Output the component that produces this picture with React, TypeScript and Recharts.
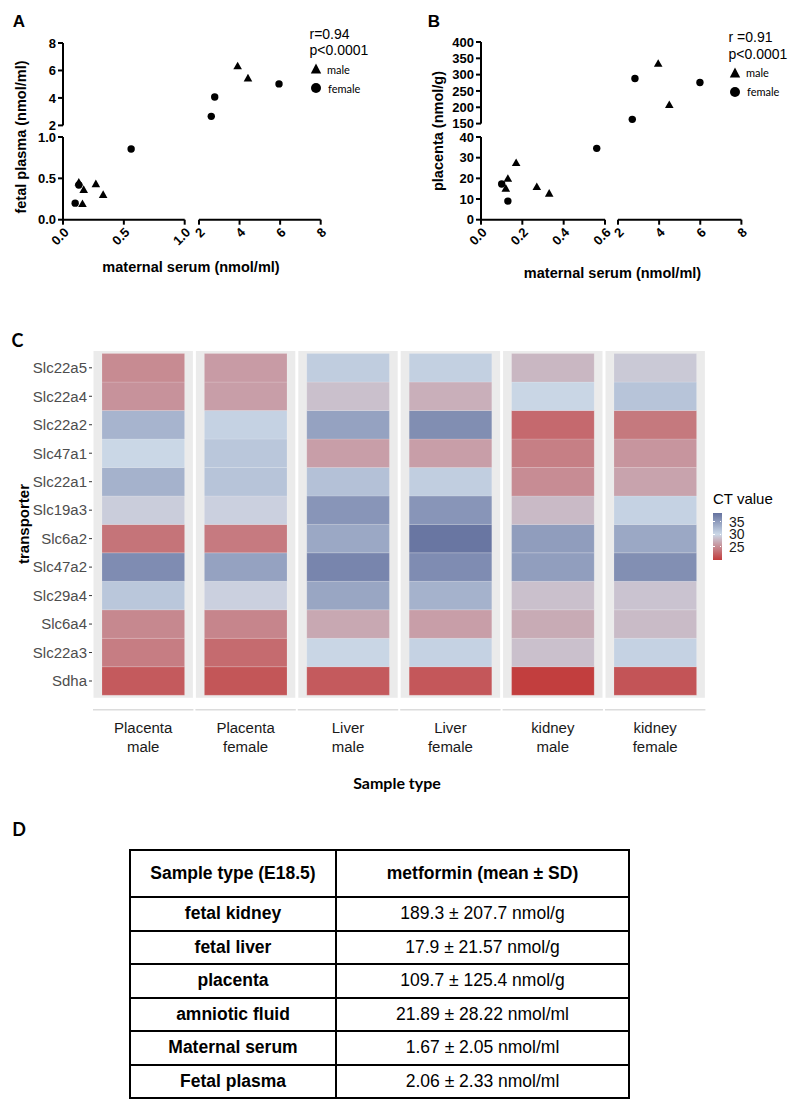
import React from 'react';
import { ScatterChart, Scatter, XAxis, YAxis, BarChart, Bar, Cell, ReferenceArea } from 'recharts';

const FONT = '"Liberation Sans", Arial, sans-serif';
const ALT = 'Lato, "Open Sans", sans-serif';

// A: maternal serum vs fetal plasma (nmol/ml)
const plasmaMaleSerum = [0.13, 0.17, 0.16, 0.27, 0.33, 3.92, 4.43];
const plasmaMaleValue = [0.45, 0.36, 0.19, 0.43, 0.3, 6.3, 5.42];
const plasmaFemaleSerum = [0.1, 0.13, 0.56, 2.62, 2.79, 5.96];
const plasmaFemaleValue = [0.2, 0.42, 0.855, 2.66, 4.07, 5.02];

// B: maternal serum vs placenta (nmol/g)
const placentaMaleSerum = [0.13, 0.12, 0.17, 0.27, 0.33, 3.94, 4.48];
const placentaMaleValue = [19.8, 15.0, 27.4, 15.8, 12.6, 333, 207];
const placentaFemaleSerum = [0.1, 0.13, 0.56, 2.68, 2.81, 5.97];
const placentaFemaleValue = [17.3, 9.0, 34.5, 163, 288, 276];

const plasmaLowTicks = [0, 0.5, 1];
const plasmaHighTicks = [2, 4, 6, 8];
const placentaLowTicks = [0, 10, 20, 30, 40];
const placentaHighTicks = [150, 200, 250, 300, 350, 400];
const serumLowTicksA = [0, 0.5, 1];
const serumLowTicksB = [0, 0.2, 0.4, 0.6];
const serumHighTicks = [2, 4, 6, 8];

// C: CT values, rows top to bottom
const transporters = ['Slc22a5', 'Slc22a4', 'Slc22a2', 'Slc47a1', 'Slc22a1', 'Slc19a3', 'Slc6a2', 'Slc47a2', 'Slc29a4', 'Slc6a4', 'Slc22a3', 'Sdha'];
const sampleTypes = ['Placenta male', 'Placenta female', 'Liver male', 'Liver female', 'kidney male', 'kidney female'];
const ctPlacentaMale = [24.9, 25.4, 33.0, 30.1, 33.2, 29.3, 23.4, 36.3, 31.4, 24.7, 24.0, 21.7];
const ctPlacentaFemale = [26.0, 26.2, 30.5, 31.4, 31.7, 29.5, 23.8, 34.5, 29.5, 24.5, 22.8, 21.4];
const ctLiverMale = [30.9, 28.4, 34.5, 26.2, 31.9, 35.6, 34.0, 36.9, 34.2, 26.8, 30.2, 21.7];
const ctLiverFemale = [30.7, 27.3, 36.2, 26.2, 30.8, 35.6, 38.2, 36.3, 33.2, 26.2, 30.5, 21.5];
const ctKidneyMale = [27.8, 30.2, 22.7, 24.1, 25.0, 28.0, 34.9, 34.8, 28.4, 27.0, 28.4, 19.8];
const ctKidneyFemale = [29.0, 31.7, 23.7, 25.6, 26.5, 30.5, 34.0, 36.1, 28.6, 28.1, 30.5, 21.3];
const ctBySample = [ctPlacentaMale, ctPlacentaFemale, ctLiverMale, ctLiverFemale, ctKidneyMale, ctKidneyFemale];
const ctLegendTicks = [35, 30, 25];

// D: table
const tableSamples = ['fetal kidney', 'fetal liver', 'placenta', 'amniotic fluid', 'Maternal serum', 'Fetal plasma'];
const tableValues = ['189.3 ± 207.7 nmol/g', '17.9 ± 21.57 nmol/g', '109.7 ± 125.4 nmol/g', '21.89 ± 28.22 nmol/ml', '1.67 ± 2.05 nmol/ml', '2.06 ± 2.33 nmol/ml'];

const CT_MIN = 19.7;
const CT_MID = 30;
const CT_MAX = 38.5;
const LOW = [194, 60, 60];
const MID = [203, 216, 231];
const HIGH = [101, 114, 159];

function mix(a: number[], b: number[], t: number) {
  const c = a.map((v, i) => Math.round(v + (b[i] - v) * Math.max(0, Math.min(1, t))));
  return `rgb(${c[0]},${c[1]},${c[2]})`;
}
function ctColor(v: number) {
  return v <= CT_MID ? mix(LOW, MID, (v - CT_MIN) / (CT_MID - CT_MIN)) : mix(MID, HIGH, (v - CT_MID) / (CT_MAX - CT_MID));
}

type Pt = { x: number; y: number };
const zip = (xs: number[], ys: number[]): Pt[] => xs.map((x, i) => ({ x, y: ys[i] }));

const PAD = 30;
const YW = 50;
const XH = 40;

function place(x0: number, y0: number, x1: number, y1: number, yw: number, xh: number) {
  return {
    style: { position: 'absolute' as const, left: x0 - yw - PAD, top: y0 - PAD },
    width: x1 - x0 + yw + 2 * PAD,
    height: y1 - y0 + xh + 2 * PAD,
    margin: { top: PAD, right: PAD, bottom: PAD, left: PAD },
  };
}

const Dot = (p: any) => <circle cx={p.cx} cy={p.cy} r={3.7} fill="#000" />;
const Tri = (p: any) => (
  <polygon points={`${p.cx},${p.cy - 4.6} ${p.cx - 4.3},${p.cy + 3} ${p.cx + 4.3},${p.cy + 3}`} fill="#000" />
);

const axisLine = { stroke: '#000', strokeWidth: 2 };
const tickStyle = { fill: '#000', fontSize: 13, fontWeight: 700, fontFamily: FONT };

type Geo = { axisX: number; upTop: number; upBottom: number; lowTop: number; bottom: number; leftEnd: number; rightStart: number; rightEnd: number };

function BrokenScatter(props: {
  g: Geo; lowX: number[]; highX: number[]; lowY: number[]; highY: number[];
  fmtX: (v: number) => string; fmtY: (v: number) => string; male: Pt[]; female: Pt[];
}) {
  const { g, lowX, highX, lowY, highY, fmtX, fmtY, male, female } = props;
  const first = (a: number[]) => a[0];
  const last = (a: number[]) => a[a.length - 1];
  const isLow = (p: Pt) => p.x < first(highX);
  const stretch = first(highX) - ((g.rightStart - g.axisX) * (last(highX) - first(highX))) / (g.rightEnd - g.rightStart);
  const up = place(g.axisX, g.upTop, g.rightEnd, g.upBottom, YW, 0);
  const ll = place(g.axisX, g.lowTop, g.leftEnd, g.bottom, YW, XH);
  const lr = place(g.rightStart, g.lowTop, g.rightEnd, g.bottom, 0, XH);
  return (
    <>
      <div style={up.style}>
        <ScatterChart width={up.width} height={up.height} margin={up.margin}>
          <XAxis type="number" dataKey="x" hide domain={[stretch, last(highX)]} allowDataOverflow />
          <YAxis type="number" dataKey="y" width={YW} domain={[first(highY), last(highY)]} ticks={highY} allowDataOverflow
            axisLine={axisLine} tickLine={axisLine} tickSize={5} tick={tickStyle} interval={0} />
          <Scatter data={male.filter((p) => !isLow(p))} shape={Tri} isAnimationActive={false} />
          <Scatter data={female.filter((p) => !isLow(p))} shape={Dot} isAnimationActive={false} />
        </ScatterChart>
      </div>
      <div style={ll.style}>
        <ScatterChart width={ll.width} height={ll.height} margin={ll.margin}>
          <XAxis type="number" dataKey="x" height={XH} domain={[first(lowX), last(lowX)]} ticks={lowX} allowDataOverflow
            axisLine={axisLine} tickLine={axisLine} tickSize={5} angle={-45} tickFormatter={fmtX}
            tick={{ ...tickStyle, textAnchor: 'end' }} interval={0} />
          <YAxis type="number" dataKey="y" width={YW} domain={[first(lowY), last(lowY)]} ticks={lowY} allowDataOverflow
            axisLine={axisLine} tickLine={axisLine} tickSize={5} tick={tickStyle} tickFormatter={fmtY} interval={0} />
          <Scatter data={male.filter(isLow)} shape={Tri} isAnimationActive={false} />
          <Scatter data={female.filter(isLow)} shape={Dot} isAnimationActive={false} />
        </ScatterChart>
      </div>
      <div style={lr.style}>
        <ScatterChart width={lr.width} height={lr.height} margin={lr.margin}>
          <XAxis type="number" dataKey="x" height={XH} domain={[first(highX), last(highX)]} ticks={highX} allowDataOverflow
            axisLine={axisLine} tickLine={axisLine} tickSize={5} angle={-45}
            tick={{ ...tickStyle, textAnchor: 'end' }} interval={0} />
          <YAxis type="number" dataKey="y" hide domain={[first(lowY), last(lowY)]} allowDataOverflow />
          <Scatter data={[]} shape={Dot} isAnimationActive={false} />
        </ScatterChart>
      </div>
    </>
  );
}

function Txt(p: { x: number; y: number; children: React.ReactNode; style?: React.CSSProperties; anchor?: 'start' | 'middle'; rotate?: boolean }) {
  const tx = p.anchor === 'start' ? '0' : '-50%';
  return (
    <div style={{
      position: 'absolute', left: p.x, top: p.y, whiteSpace: 'nowrap', lineHeight: 1,
      transform: `translate(${tx}, -50%)${p.rotate ? ' rotate(-90deg)' : ''}`, transformOrigin: p.rotate ? '50% 50%' : undefined,
      ...p.style,
    }}>{p.children}</div>
  );
}

function Marker({ x, y, kind }: { x: number; y: number; kind: 'tri' | 'dot' }) {
  return (
    <svg style={{ position: 'absolute', left: x - 6, top: y - 6 }} width={12} height={12}>
      {kind === 'dot' ? <circle cx={6} cy={6} r={5} fill="#000" /> : <polygon points="6,0.5 0.8,10.5 11.2,10.5" fill="#000" />}
    </svg>
  );
}

function StatsLegend({ x, y, r }: { x: number; y: number; r: string }) {
  const s = { fontFamily: FONT, fontSize: 14, color: '#000' };
  const small = { fontFamily: ALT, fontSize: 11, color: '#000' };
  return (
    <>
      <Txt x={x} y={y} anchor="start" style={s}>{r}</Txt>
      <Txt x={x} y={y + 16.5} anchor="start" style={s}>p&lt;0.0001</Txt>
      <Marker x={x + 6} y={y + 35.5} kind="tri" />
      <Txt x={x + 17.5} y={y + 35} anchor="start" style={small}>male</Txt>
      <Marker x={x + 6} y={y + 54.5} kind="dot" />
      <Txt x={x + 18.5} y={y + 54} anchor="start" style={small}>female</Txt>
    </>
  );
}

// heatmap geometry
const HM = { x0: 92, x1: 706.4, y0: 350.7, y1: 697.5 };
const HM_YW = 80;
const HM_XH = 70;
const ROWS = transporters.length;
const EXPAND = 0.09;
const BAND = (HM.x1 - HM.x0) / sampleTypes.length;

const tileRows = sampleTypes.map((name) => {
  const row: Record<string, string | number> = { name };
  transporters.forEach((t) => { row[t] = 1; });
  return row;
});

const SampleTick = (p: any) => {
  const [l1, l2] = String(p.payload.value).split(' ');
  const ts = { fontFamily: FONT, fontSize: 15, fill: '#1a1a1a' };
  return (
    <g>
      <line x1={p.x - BAND / 2 + 1} x2={p.x + BAND / 2 - 1} y1={p.y + 12} y2={p.y + 12} stroke="#dcdcdc" strokeWidth={1.6} />
      <text x={p.x} y={p.y + 35.5} textAnchor="middle" {...ts}>{l1}</text>
      <text x={p.x} y={p.y + 54.5} textAnchor="middle" {...ts}>{l2}</text>
    </g>
  );
};

function Heatmap() {
  const pl = place(HM.x0, HM.y0, HM.x1, HM.y1, HM_YW, HM_XH);
  const rowTicks = transporters.map((_, i) => ROWS - 0.5 - i);
  return (
    <div style={pl.style}>
      <BarChart width={pl.width} height={pl.height} margin={pl.margin} data={tileRows} barCategoryGap={0}>
        <XAxis dataKey="name" type="category" height={HM_XH} axisLine={false} tickLine={false} tickSize={0} tickMargin={0}
          tick={SampleTick} interval={0} />
        <YAxis type="number" width={HM_YW} domain={[-EXPAND, ROWS + EXPAND]} ticks={rowTicks} allowDataOverflow
          axisLine={false} tickLine={{ stroke: '#333', strokeWidth: 1 }} tickSize={3} tickMargin={2} interval={0}
          tickFormatter={(v: number) => transporters[Math.round(ROWS - 0.5 - v)]}
          tick={{ fill: '#4d4d4d', fontSize: 15, fontFamily: FONT }} />
        {sampleTypes.map((s) => (
          <ReferenceArea key={s} x1={s} x2={s} y1={-EXPAND} y2={ROWS + EXPAND} ifOverflow="visible"
            shape={(p: any) => <rect x={p.x + 1.5} y={p.y} width={p.width - 3} height={p.height} fill="#ebebeb" />} />
        ))}
        {[...transporters].reverse().map((t) => {
          const row = transporters.indexOf(t);
          return (
            <Bar key={t} dataKey={t} stackId="ct" barSize={82.6} isAnimationActive={false} stroke="rgba(255,255,255,0.25)" strokeWidth={0.6}>
              {ctBySample.map((col, i) => <Cell key={i} fill={ctColor(col[row])} />)}
            </Bar>
          );
        })}
      </BarChart>
    </div>
  );
}

function ColorBar() {
  const top = 513;
  const h = 47;
  const unit = h / (CT_MAX - CT_MIN);
  const midPct = ((CT_MAX - CT_MID) / (CT_MAX - CT_MIN)) * 100;
  return (
    <>
      <Txt x={713} y={498} anchor="start" style={{ fontFamily: FONT, fontSize: 15, color: '#000' }}>CT value</Txt>
      <div style={{
        position: 'absolute', left: 713, top, width: 8.5, height: h,
        background: `linear-gradient(to bottom, ${ctColor(CT_MAX)} 0%, ${ctColor(CT_MID)} ${midPct}%, ${ctColor(CT_MIN)} 100%)`,
      }} />
      {ctLegendTicks.map((v) => (
        <React.Fragment key={v}>
          <div style={{ position: 'absolute', left: 713, top: top + (CT_MAX - v) * unit - 0.5, width: 1.8, height: 1, background: '#fff' }} />
          <div style={{ position: 'absolute', left: 719.7, top: top + (CT_MAX - v) * unit - 0.5, width: 1.8, height: 1, background: '#fff' }} />
          <Txt x={729} y={top + (CT_MAX - v) * unit} anchor="start" style={{ fontFamily: FONT, fontSize: 14, color: '#1a1a1a' }}>{v}</Txt>
        </React.Fragment>
      ))}
    </>
  );
}

function MetforminTable() {
  const cell: React.CSSProperties = { border: '2px solid #000', textAlign: 'center', padding: 0, fontSize: 17.5, fontFamily: FONT, color: '#000' };
  return (
    <table style={{ position: 'absolute', left: 129, top: 849, width: 499, borderCollapse: 'collapse', tableLayout: 'fixed' }}>
      <colgroup><col style={{ width: 206 }} /><col style={{ width: 293 }} /></colgroup>
      <tbody>
        <tr style={{ height: 47 }}>
          <td style={{ ...cell, fontWeight: 700 }}>Sample type (E18.5)</td>
          <td style={{ ...cell, fontWeight: 700 }}>metformin (mean ± SD)</td>
        </tr>
        {tableSamples.map((s, i) => (
          <tr key={s} style={{ height: 33.5 }}>
            <td style={{ ...cell, fontWeight: 700 }}>{s}</td>
            <td style={cell}>{tableValues[i]}</td>
          </tr>
        ))}
      </tbody>
    </table>
  );
}

const geoA: Geo = { axisX: 63.3, upTop: 42.6, upBottom: 125, lowTop: 137.3, bottom: 220, leftEnd: 185, rightStart: 199, rightEnd: 320.7 };
const geoB: Geo = { axisX: 481, upTop: 42.4, upBottom: 124, lowTop: 137.3, bottom: 220, leftEnd: 605, rightStart: 618.3, rightEnd: 741.7 };

export default function App() {
  const title = { fontFamily: FONT, fontSize: 14.5, fontWeight: 700, color: '#000' };
  const panel = { fontFamily: FONT, fontSize: 17, fontWeight: 700, color: '#000' };
  const panelAlt = { fontFamily: ALT, fontSize: 18, fontWeight: 700, color: '#000' };
  return (
    <div style={{ position: 'absolute', left: 0, top: 0, width: 800, height: 1110, background: '#fff', overflow: 'hidden' }}>
      <Txt x={19} y={21} style={panel}>A</Txt>
      <BrokenScatter g={geoA} lowX={serumLowTicksA} highX={serumHighTicks} lowY={plasmaLowTicks} highY={plasmaHighTicks}
        fmtX={(v) => v.toFixed(1)} fmtY={(v) => v.toFixed(1)}
        male={zip(plasmaMaleSerum, plasmaMaleValue)} female={zip(plasmaFemaleSerum, plasmaFemaleValue)} />
      <Txt x={21} y={137} rotate style={title}>fetal plasma (nmol/ml)</Txt>
      <Txt x={191} y={267} style={title}>maternal serum (nmol/ml)</Txt>
      <StatsLegend x={309.5} y={33.5} r="r=0.94" />

      <Txt x={434} y={20.5} style={panel}>B</Txt>
      <BrokenScatter g={geoB} lowX={serumLowTicksB} highX={serumHighTicks} lowY={placentaLowTicks} highY={placentaHighTicks}
        fmtX={(v) => v.toFixed(1)} fmtY={(v) => String(v)}
        male={zip(placentaMaleSerum, placentaMaleValue)} female={zip(placentaFemaleSerum, placentaFemaleValue)} />
      <Txt x={437.5} y={131} rotate style={title}>placenta (nmol/g)</Txt>
      <Txt x={612.5} y={273} style={title}>maternal serum (nmol/ml)</Txt>
      <StatsLegend x={728.5} y={37} r="r =0.91" />

      <Txt x={17.5} y={339.5} style={panelAlt}>C</Txt>
      <Heatmap />
      <Txt x={23} y={524} rotate style={{ fontFamily: FONT, fontSize: 15, fontWeight: 700, color: '#000' }}>transporter</Txt>
      <Txt x={397} y={783} style={{ fontFamily: ALT, fontSize: 16, fontWeight: 700, color: '#000' }}>Sample type</Txt>
      <ColorBar />

      <Txt x={19} y={828.5} style={panelAlt}>D</Txt>
      <MetforminTable />
    </div>
  );
}
